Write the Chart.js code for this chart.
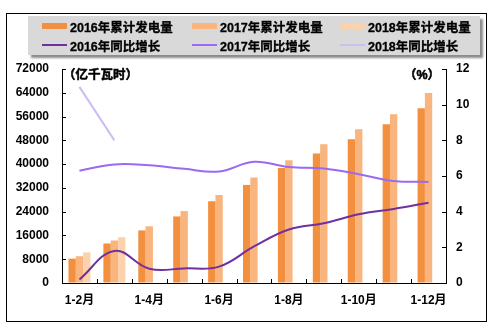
<!DOCTYPE html>
<html>
<head>
<meta charset="utf-8">
<script src="https://cdn.jsdelivr.net/npm/chart.js@4/dist/chart.umd.min.js"></script>
<style>
  body { margin: 0; background: #fff; }
  #wrap { position: relative; width: 494px; height: 329px; }
  #legend {
    position: absolute; left: 28px; top: 16px; width: 452px; height: 39px;
    background: #d9d9d9; box-shadow: 3px 3px 2px #8c8c8c;
    font: bold 12.5px "Liberation Sans", "Noto Sans CJK SC", sans-serif; color: #000;
    -webkit-text-stroke: 0.3px #000;
  }
  .item { position: absolute; display: flex; align-items: center; height: 16px; white-space: nowrap; }
  .sw { display: inline-block; width: 25px; margin-right: 3px; }
</style>
</head>
<body>
<div id="wrap">
  <canvas id="powerChart" width="494" height="329"></canvas>
  <div id="legend"></div>
</div>
<script>
const months = ['1-2月', '1-3月', '1-4月', '1-5月', '1-6月', '1-7月', '1-8月', '1-9月', '1-10月', '1-11月', '1-12月'];

// 累计发电量（亿千瓦时）
const gen2016 = [8200, 13300, 17700, 22400, 27500, 33000, 38700, 43600, 48400, 53400, 58800];
const gen2017 = [9000, 14300, 19100, 24200, 29600, 35500, 41300, 46700, 51700, 56800, 63900];
const gen2018 = [10300, 15400, null, null, null, null, null, null, null, null, null];

// 同比增长（%）
const yoy2016 = [0.2, 1.8, 0.8, 0.82, 0.92, 2.05, 3.0, 3.35, 3.85, 4.15, 4.5];
const yoy2017 = [6.3, 6.65, 6.6, 6.4, 6.25, 6.8, 6.5, 6.42, 6.1, 5.72, 5.67];
const yoy2018 = [11.0, 8.0, null, null, null, null, null, null, null, null, null];

const leftTicks = [0, 8000, 16000, 24000, 32000, 40000, 48000, 56000, 64000, 72000];
const rightTicks = [0, 2, 4, 6, 8, 10, 12];

const FONT = '"Liberation Sans", "Noto Sans CJK SC", sans-serif';

// 坐标轴内侧刻度线、单位文字和外框
const decorations = {
    id: 'decorations',
    afterDraw(chart) {
        const { ctx, chartArea: a, scales } = chart;
        ctx.save();
        ctx.strokeStyle = '#000';
        ctx.lineWidth = 1;
        ctx.beginPath();
        scales.y.ticks.forEach(t => {
            const py = Math.round(scales.y.getPixelForValue(t.value)) + 0.5;
            ctx.moveTo(a.left, py); ctx.lineTo(a.left + 4, py);
        });
        scales.y1.ticks.forEach(t => {
            const py = Math.round(scales.y1.getPixelForValue(t.value)) + 0.5;
            ctx.moveTo(a.right - 4, py); ctx.lineTo(a.right, py);
        });
        const step = (a.right - a.left) / months.length;
        for (let i = 1; i < months.length; i++) {
            const px = Math.round(scales.x.getPixelForValue(i) - step / 2) + 0.5;
            ctx.moveTo(px, a.bottom); ctx.lineTo(px, a.bottom - 4);
        }
        ctx.stroke();

        ctx.fillStyle = '#000';
        ctx.lineWidth = 0.5;
        ctx.font = 'bold 12.5px ' + FONT;
        ctx.textBaseline = 'middle';
        ctx.textAlign = 'left';
        ctx.fillText('（亿千瓦时）', a.left + 1, a.top + 7);
        ctx.strokeText('（亿千瓦时）', a.left + 1, a.top + 7);
        ctx.textAlign = 'right';
        ctx.fillText('（%）', a.right - 6, a.top + 7);
        ctx.strokeText('（%）', a.right - 6, a.top + 7);

        ctx.lineWidth = 1;
        ctx.strokeRect(6.5, 13.5, 480, 308);
        ctx.restore();
    }
};

const ctx = document.getElementById('powerChart').getContext('2d');
const chart = new Chart(ctx, {
    type: 'bar',
    data: {
        labels: months,
        datasets: [
            { label: '2016年累计发电量', data: gen2016, backgroundColor: '#f3903f', yAxisID: 'y', order: 2 },
            { label: '2017年累计发电量', data: gen2017, backgroundColor: '#f9b57d', yAxisID: 'y', order: 2 },
            { label: '2018年累计发电量', data: gen2018, backgroundColor: '#fbd2ac', yAxisID: 'y', order: 2 },
            { type: 'line', label: '2016年同比增长', data: yoy2016, borderColor: '#7030a0', borderWidth: 2,
              tension: 0.4, pointRadius: 0, yAxisID: 'y1', order: 1 },
            { type: 'line', label: '2017年同比增长', data: yoy2017, borderColor: '#9a6af0', borderWidth: 2,
              tension: 0.4, pointRadius: 0, yAxisID: 'y1', order: 1 },
            { type: 'line', label: '2018年同比增长', data: yoy2018, borderColor: '#cdbdf0', borderWidth: 2,
              tension: 0, pointRadius: 0, yAxisID: 'y1', order: 1 }
        ]
    },
    options: {
        responsive: false,
        animation: false,
        layout: { padding: { top: 69, left: 0, right: 0, bottom: 0 } },
        datasets: { bar: { categoryPercentage: 0.63, barPercentage: 1.0 } },
        plugins: {
            legend: { display: false },
            tooltip: { enabled: false }
        },
        scales: {
            x: {
                grid: { display: false, drawTicks: false },
                border: { color: '#000' },
                ticks: {
                    autoSkip: false, maxRotation: 0, padding: 10, color: '#000',
                    font: { family: FONT, size: 12, weight: 'bold' },
                    callback: (v, i) => (i % 2 === 0 ? months[i] : '')
                },
                afterFit: s => { s.height = 46; }
            },
            y: {
                position: 'left',
                min: 0, max: 72000,
                afterBuildTicks: s => { s.ticks = leftTicks.map(v => ({ value: v })); },
                grid: { drawOnChartArea: false, drawTicks: false },
                border: { color: '#000' },
                ticks: {
                    padding: 13, color: '#000', font: { family: FONT, size: 12, weight: 'bold' },
                    callback: v => String(v)
                },
                afterFit: s => { s.width = 62; }
            },
            y1: {
                position: 'right',
                min: 0, max: 12,
                afterBuildTicks: s => { s.ticks = rightTicks.map(v => ({ value: v })); },
                grid: { drawOnChartArea: false, drawTicks: false },
                border: { color: '#000' },
                ticks: { padding: 10, color: '#000', font: { family: FONT, size: 12, weight: 'bold' } },
                afterFit: s => { s.width = 48; }
            }
        }
    },
    plugins: [decorations]
});

// 图例：三列两行
const legend = document.getElementById('legend');
const colX = [14, 164, 312];
chart.data.datasets.forEach((ds, i) => {
    const item = document.createElement('div');
    item.className = 'item';
    item.style.left = colX[i % 3] + 'px';
    item.style.top = (i < 3 ? 2 : 21) + 'px';
    const sw = document.createElement('span');
    sw.className = 'sw';
    if (ds.type === 'line') {
        sw.style.height = '2px';
        sw.style.background = ds.borderColor;
    } else {
        sw.style.height = '6px';
        sw.style.background = ds.backgroundColor;
    }
    item.appendChild(sw);
    item.appendChild(document.createTextNode(ds.label));
    legend.appendChild(item);
});
</script>
</body>
</html>
